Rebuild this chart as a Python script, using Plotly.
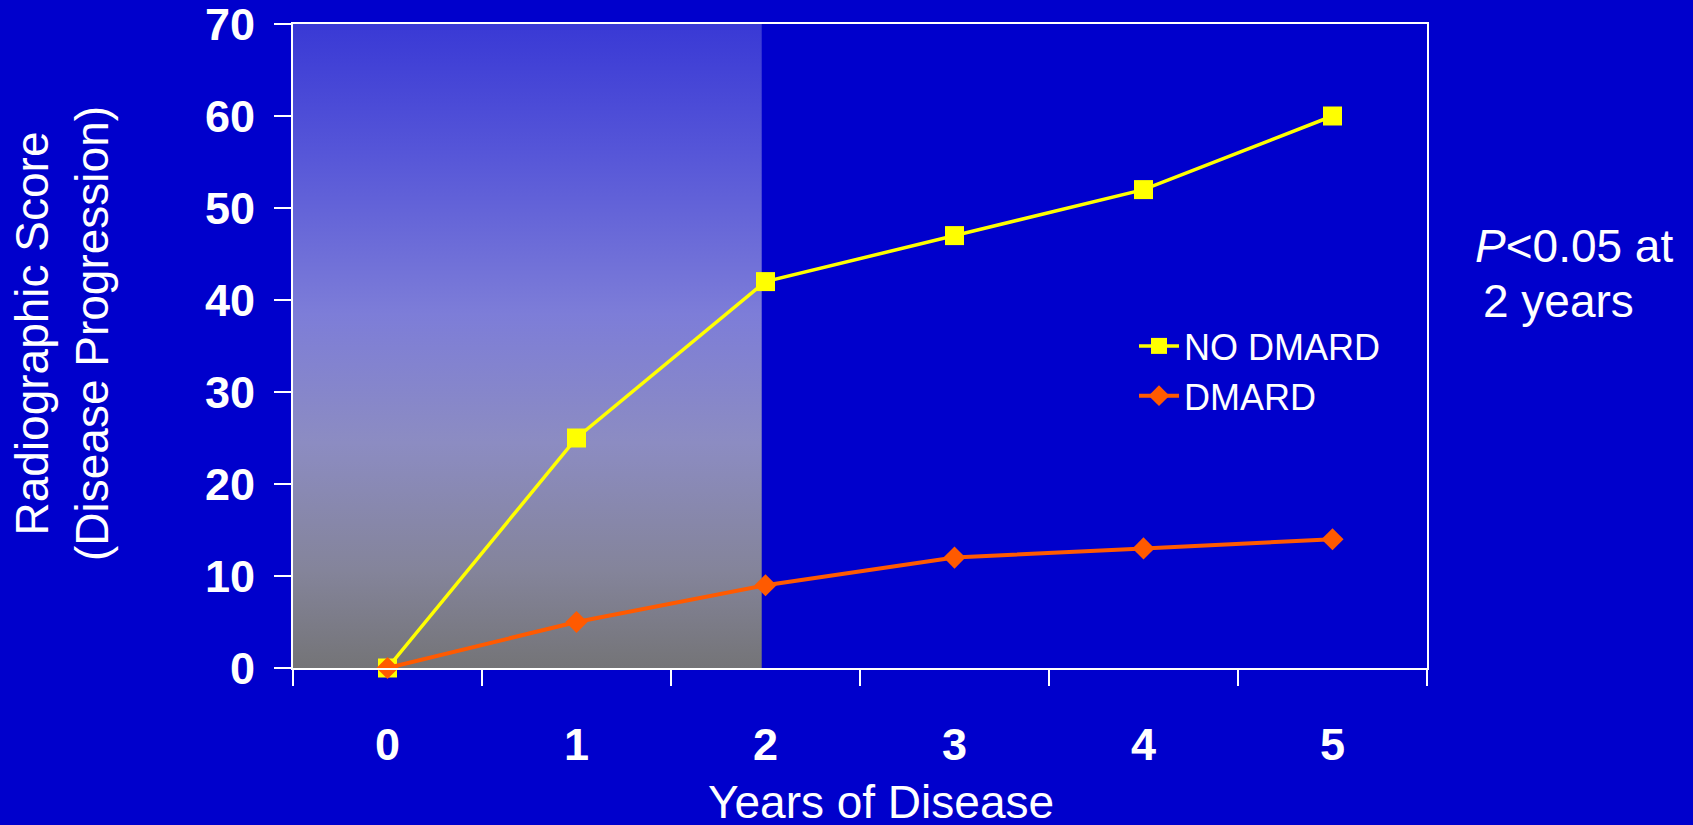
import plotly.graph_objects as go

# Radiographic score over years of disease, with and without DMARD therapy
years = [0, 1, 2, 3, 4, 5]
no_dmard = [0, 25, 42, 47, 52, 60]
dmard = [0, 5, 9, 12, 13, 14]
y_ticks = [0, 10, 20, 30, 40, 50, 60, 70]

# Early-disease window (shaded background)
window_start, window_end = -0.5, 1.98
window_top = 70

W, H = 1693, 825
L, R, T, B = 293, 266, 24, 157
BG = "#0000cc"
FONT = "Arial, Liberation Sans, sans-serif"


def px_x(px):
    return (px - L) / (W - L - R)


def px_y(py):
    return (H - B - py) / (H - T - B)


fig = go.Figure()

fig.add_trace(go.Scatter(
    x=[window_start, window_start, window_end, window_end],
    y=[0, window_top, window_top, 0],
    mode="lines", line=dict(width=0), fill="toself",
    fillgradient=dict(
        type="vertical",
        colorscale=[
            [0.0, "#747477"],
            [0.15, "#84849a"],
            [0.35, "#8c8cc2"],
            [0.55, "#7d7dd8"],
            [0.8, "#5656d8"],
            [1.0, "#3939d5"],
        ],
    ),
    hoverinfo="skip", showlegend=False,
))

fig.add_trace(go.Scatter(
    x=years, y=no_dmard, name="NO DMARD", mode="lines+markers",
    line=dict(color="#ffff00", width=3.5),
    marker=dict(symbol="square", size=19, color="#ffff00"),
    cliponaxis=False,
))
fig.add_trace(go.Scatter(
    x=years, y=dmard, name="DMARD", mode="lines+markers",
    line=dict(color="#ff5a00", width=4),
    marker=dict(symbol="diamond", size=17, color="#ff5a00"),
    cliponaxis=False,
))

fig.update_layout(
    width=W, height=H,
    margin=dict(l=L, r=R, t=T, b=B, pad=0, autoexpand=False),
    paper_bgcolor=BG, plot_bgcolor=BG,
    font=dict(family=FONT, color="white"),
    showlegend=True,
    legend=dict(
        x=px_x(1134), y=px_y(316), xanchor="left", yanchor="top",
        bgcolor="rgba(0,0,0,0)", font=dict(size=36, color="white"),
        itemwidth=40,
    ),
)

fig.update_xaxes(
    range=[-0.5, 5.5], tickmode="array", tickvals=years,
    ticktext=[str(v) for v in years], automargin=False,
    ticks="", showgrid=False, zeroline=False,
    showline=True, linecolor="white", linewidth=2, mirror=True,
    tickfont=dict(size=45, family=FONT, color="white", weight="bold"),
    ticklabelstandoff=36, ticklabeloverflow="allow",
    minor=dict(ticks="outside", ticklen=16, tickwidth=2, tickcolor="white",
               tick0=0.5, dtick=1, showgrid=False),
)
fig.update_yaxes(
    range=[0, 70], tickmode="array", tickvals=y_ticks, automargin=False,
    ticks="outside", ticklen=17, tickwidth=2, tickcolor="white",
    showgrid=False, zeroline=False,
    showline=True, linecolor="white", linewidth=2, mirror=True,
    tickfont=dict(size=45, family=FONT, color="white", weight="bold"),
    ticklabelstandoff=10, ticklabeloverflow="allow",
)

annotations = [
    dict(text="Years of Disease", x=px_x(881), y=px_y(802),
         font=dict(size=46)),
    dict(text="Radiographic Score<br>(Disease Progression)", x=px_x(62),
         y=px_y(334), textangle=-90, font=dict(size=46)),
    dict(text="<i>P</i><0.05 at", x=px_x(1473), y=px_y(246),
         xanchor="left", font=dict(size=46)),
    dict(text="2 years", x=px_x(1481), y=px_y(301),
         xanchor="left", font=dict(size=46)),
]
for a in annotations:
    a.setdefault("xanchor", "center")
    fig.add_annotation(xref="paper", yref="paper", showarrow=False,
                       yanchor="middle", **a)

fig.write_html("out.html")
